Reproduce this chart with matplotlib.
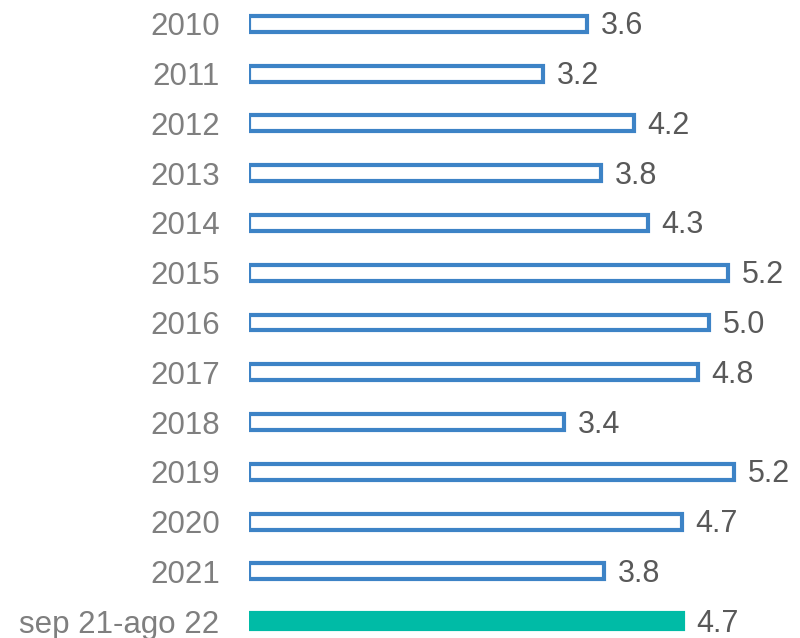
import matplotlib.pyplot as plt

# categories and values
periods = ['2010', '2011', '2012', '2013', '2014', '2015', '2016',
           '2017', '2018', '2019', '2020', '2021', 'sep 21-ago 22']
values = [3.66, 3.19, 4.17, 3.81, 4.32, 5.19, 4.98,
          4.86, 3.41, 5.25, 4.69, 3.85, 4.70]
valueLabels = ['3.6', '3.2', '4.2', '3.8', '4.3', '5.2', '5.0',
               '4.8', '3.4', '5.2', '4.7', '3.8', '4.7']

plt.rcParams['font.family'] = ['Liberation Sans', 'DejaVu Sans']

blue = '#3D83C6'
teal = '#00BBA6'

fig = plt.figure(figsize=(8, 6.38), dpi=100)
ax = fig.add_axes([0.311, 0, 0.689, 1])

ys = list(range(len(periods)))
for i, (p, v) in enumerate(zip(periods, values)):
    if i == len(periods) - 1:
        # last period is highlighted as a solid bar
        ax.barh(i, v, height=0.32, color=teal, edgecolor=teal, linewidth=3)
    else:
        ax.barh(i, v, height=0.32, color='white', edgecolor=blue, linewidth=3)
    ax.text(v + 0.15, i + 0.05, valueLabels[i], va='center', ha='left',
            fontsize=22, color='#595959')

ax.set_yticks(ys)
ax.set_yticklabels(periods, fontsize=22.5, color='#7F7F7F')
ax.tick_params(axis='y', length=0, pad=21)
ax.set_xticks([])
ax.set_xlim(0, 5.97)
ax.set_ylim(12.34, -0.48)
for s in ax.spines.values():
    s.set_visible(False)

fig.savefig('out.png', dpi=100)
